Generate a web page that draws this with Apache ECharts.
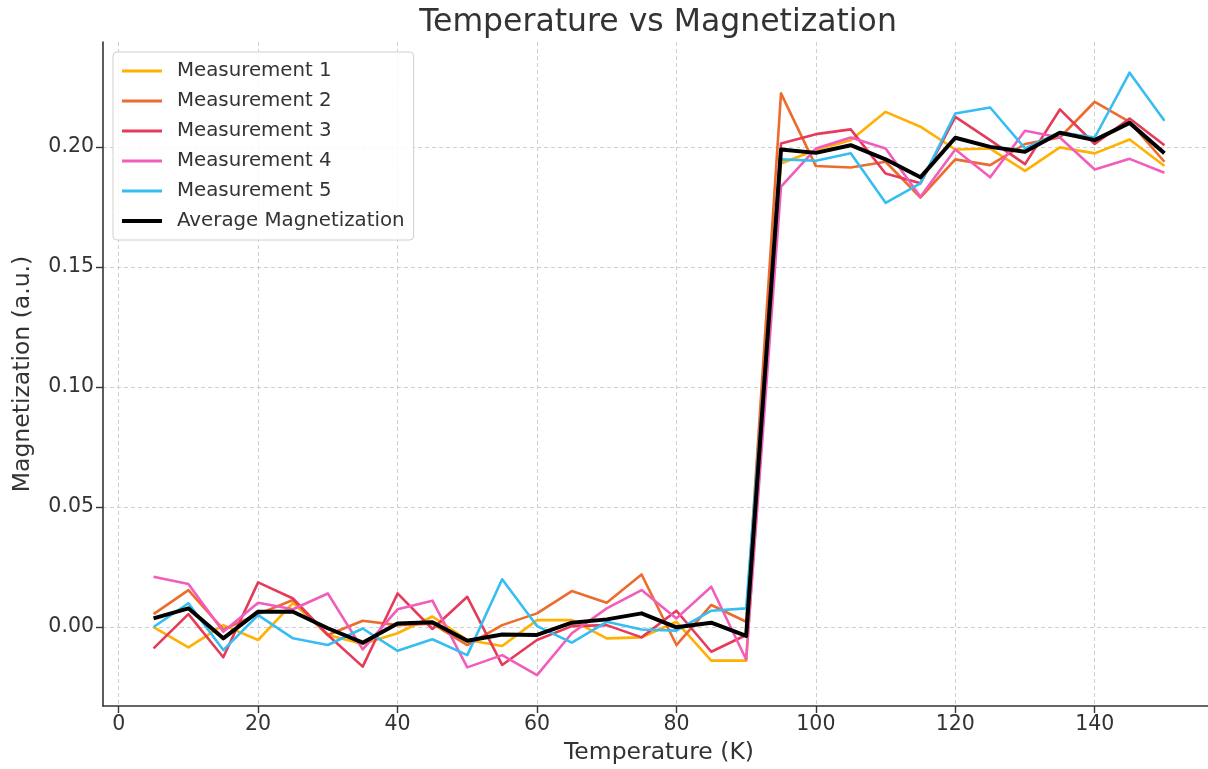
<!DOCTYPE html>
<html>
<head>
<meta charset="utf-8">
<script src="https://cdn.jsdelivr.net/npm/echarts@6/dist/echarts.min.js"></script>
<style>
html,body{margin:0;padding:0;background:#fff;}
#chart{width:1208px;height:769px;}
</style>
</head>
<body>
<div id="chart"></div>
<script>
// ---- data ----
const temperatures = [5,10,15,20,25,30,35,40,45,50,55,60,65,70,75,80,85,90,95,100,105,110,115,120,125,130,135,140,145,150];
const measurement1 = [0.000,-0.0085,0.0008,-0.0054,0.0101,-0.0033,-0.0071,-0.0026,0.0044,
  -0.0054,-0.0079,0.0029,0.0029,-0.0047,-0.0043,0.0022,-0.0140,-0.0140,
  0.1932,0.1988,0.2029,0.2147,0.2085,0.1990,
  0.1994,0.1901,0.1999,0.1974,0.2032,0.1921];
const measurement2 = [0.0054,0.0154,-0.0010,0.0054,0.0113,-0.0033,0.0026,0.0008,0.0014,
  -0.0075,0.0008,0.0057,0.0150,0.0101,0.0219,-0.0075,0.0092,0.0022,
  0.2224,0.1921,0.1915,0.1939,0.1790,0.1949,
  0.1925,0.2013,0.2040,0.2189,0.2105,0.1939];
const measurement3 = [-0.0089,0.0054,-0.0126,0.0186,0.0119,-0.0033,-0.0165,0.0140,-0.0008,
  0.0126,-0.0158,-0.0054,0.0004,0.0008,-0.0043,0.0068,-0.0103,-0.0033,
  0.2015,0.2054,0.2074,0.1890,0.1849,0.2126,
  0.2029,0.1929,0.2157,0.2013,0.2119,0.2008];
const measurement4 = [0.0210,0.0179,-0.0020,0.0101,0.0074,0.0140,-0.0093,0.0074,0.0110,
  -0.0168,-0.0117,-0.0200,-0.0026,0.0078,0.0154,0.0036,0.0168,-0.0135,
  0.1835,0.1994,0.2040,0.1994,0.1793,0.1990,
  0.1874,0.2068,0.2040,0.1907,0.1951,0.1893];
const measurement5 = [0.000,0.0099,-0.0096,0.0050,-0.0047,-0.0075,-0.0006,-0.0099,-0.0051,
  -0.0117,0.0199,0.0004,-0.0065,0.0022,-0.0010,-0.0015,0.0068,0.0078,
  0.1949,0.1943,0.1974,0.1768,0.1849,0.2140,
  0.2165,0.1995,0.2062,0.2040,0.2310,0.2110];
const averageMagnetization = [0.0036,0.0078,-0.0047,0.0064,0.0064,-0.0005,-0.0065,0.0015,0.0020,
  -0.0057,-0.0031,-0.0033,0.0018,0.0032,0.0057,-0.0001,0.0018,-0.0037,
  0.1990,0.1976,0.2008,0.1949,0.1874,0.2039,
  0.2001,0.1981,0.2060,0.2029,0.2101,0.1974];
const seriesNames = ['Measurement 1','Measurement 2','Measurement 3','Measurement 4','Measurement 5','Average Magnetization'];
const xTicks = [0,20,40,60,80,100,120,140];
const yTicks = [0,0.05,0.10,0.15,0.20];

// ---- styles ----
const colors = ['#FFB000','#EC6B2D','#E63A5A','#F25CBA','#36BDF1','#000000'];
const widths = [2.6,2.6,2.6,2.6,2.6,4];
const FONT = 'DejaVu Sans';
const allData = [measurement1,measurement2,measurement3,measurement4,measurement5,averageMagnetization];

const series = allData.map((arr,i)=>({
  name: seriesNames[i],
  type: 'line',
  symbol: 'none',
  data: temperatures.map((t,j)=>[t,arr[j]]),
  lineStyle: {color: colors[i], width: widths[i], join: 'round'},
  itemStyle: {color: colors[i]},
  emphasis: {disabled: true},
  animation: false,
  z: i===5 ? 5 : 2
}));

const chart = echarts.init(document.getElementById('chart'), null, {renderer:'canvas'});
chart.setOption({
  animation: false,
  backgroundColor: '#fff',
  title: {
    text: 'Temperature vs Magnetization',
    left: 653,
    textAlign: 'center',
    top: 2,
    textStyle: {fontFamily: FONT, fontSize: 31.5, fontWeight: 'normal', color: '#333'}
  },
  legend: {
    orient: 'vertical',
    left: 113,
    top: 52,
    padding: [9, 9, 9, 7],
    itemWidth: 40,
    itemHeight: 20,
    itemGap: 10,
    backgroundColor: 'rgba(255,255,255,0.85)',
    borderColor: '#d0d0d0',
    borderWidth: 1,
    borderRadius: 4,
    textStyle: {fontFamily: FONT, fontSize: 19.8, color: '#333', padding: [0,0,0,10], lineHeight: 20},
    data: seriesNames.map((n,i)=>({name:n, itemStyle:{opacity:0}, lineStyle:{width: i===5?4:3}}))
  },
  grid: {left: 103, right: -7, top: 42, bottom: 63, outerBoundsMode: 'none'},
  xAxis: {
    type: 'value',
    min: -2.25,
    max: 157.25,
    name: 'Temperature (K)',
    nameLocation: 'middle',
    nameGap: 35,
    nameTextStyle: {fontFamily: FONT, fontSize: 23.5, color: '#333'},
    axisLine: {show: true, onZero: false, lineStyle: {color: '#333', width: 1.6}},
    axisTick: {show: true, length: 7, customValues: xTicks, lineStyle: {color: '#333', width: 1.4}},
    axisLabel: {customValues: xTicks, fontFamily: FONT, fontSize: 20.5, color: '#333', margin: 8},
    splitLine: {show: true, lineStyle: {color: '#cfcfcf', type: [4,3], width: 1}}
  },
  yAxis: {
    type: 'value',
    min: -0.0329,
    max: 0.2438,
    name: 'Magnetization (a.u.)',
    nameLocation: 'middle',
    nameGap: 68,
    nameTextStyle: {fontFamily: FONT, fontSize: 23.5, color: '#333'},
    axisLine: {show: true, onZero: false, lineStyle: {color: '#333', width: 1.6}},
    axisTick: {show: true, length: 7, customValues: yTicks, lineStyle: {color: '#333', width: 1.4}},
    axisLabel: {customValues: yTicks, fontFamily: FONT, fontSize: 20.5, color: '#333', margin: 9,
      formatter: v => v.toFixed(2)},
    splitLine: {show: true, lineStyle: {color: '#cfcfcf', type: [4,3], width: 1}}
  },
  series: series
});
</script>
</body>
</html>
